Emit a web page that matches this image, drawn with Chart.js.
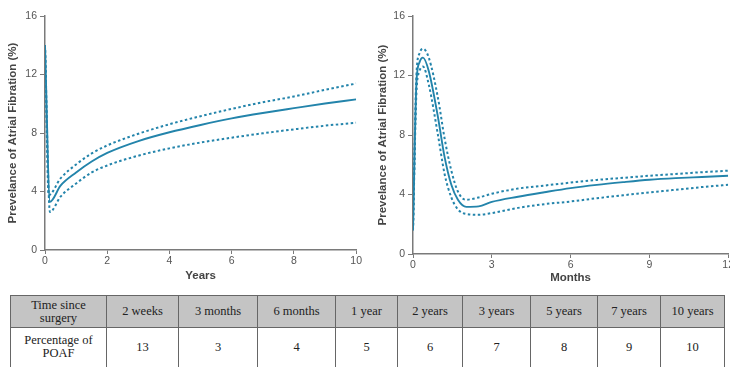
<!DOCTYPE html>
<html>
<head>
<meta charset="utf-8">
<script src="https://cdn.jsdelivr.net/npm/chart.js@4/dist/chart.umd.min.js"></script>
<style>
  html, body { margin:0; padding:0; width:730px; height:367px; overflow:hidden; background:#fff; }
  #c1wrap { position:absolute; left:0; top:0; width:363px; height:285px; }
  #c2wrap { position:absolute; left:368px; top:0; width:367px; height:285px; }
  table { position:absolute; left:10px; top:295px; border-collapse:collapse; font-family:"Liberation Serif","Times New Roman",serif; font-size:12.5px; color:#222; table-layout:fixed; }
  td { border:1px solid #666; text-align:center; padding:0; line-height:13px; }
  tr.h td { background:#c4c4c4; height:31px; }
  tr.b td { height:46px; vertical-align:top; padding-top:6px; }
  tr.b td.num { padding-top:13px; }
</style>
</head>
<body>
<div id="c1wrap"><canvas id="c1"></canvas></div>
<div id="c2wrap"><canvas id="c2"></canvas></div>
<table id="tbl"></table>
<script>
// ---- Data: years chart ----
const yearsMeanX  = [0, 0.16, 0.5, 1, 1.5, 2, 3, 4, 5, 6, 7, 8, 9, 10];
const yearsMeanY  = [14, 3.3, 4.4, 5.3, 6.05, 6.64, 7.45, 8.05, 8.55, 9.0, 9.37, 9.7, 10.02, 10.3];
const yearsUpperX = [0, 0.12, 0.5, 1, 1.5, 2, 3, 4, 5, 6, 7, 8, 9, 10];
const yearsUpperY = [14, 3.75, 4.9, 5.85, 6.6, 7.15, 7.95, 8.6, 9.15, 9.65, 10.1, 10.5, 10.95, 11.38];
const yearsLowerX = [0, 0.16, 0.5, 1, 1.5, 2, 3, 4, 5, 6, 7, 8, 9, 10];
const yearsLowerY = [14, 2.6, 3.65, 4.55, 5.3, 5.78, 6.45, 6.95, 7.35, 7.68, 7.98, 8.25, 8.5, 8.7];

// ---- Data: months chart ----
const monthsMeanX  = [0, 0.13, 0.25, 0.38, 0.6, 0.95, 1.2, 1.46, 1.71, 2.03, 2.5, 3, 4, 5, 6, 7, 8, 9, 10, 11, 12];
const monthsMeanY  = [1.6, 11.5, 12.9, 13.2, 12.3, 9.2, 6.55, 4.65, 3.65, 3.17, 3.2, 3.5, 3.85, 4.15, 4.43, 4.65, 4.83, 4.99, 5.1, 5.18, 5.26];
const monthsUpperX = [0, 0.13, 0.25, 0.38, 0.6, 0.95, 1.2, 1.46, 1.71, 2.0, 2.5, 3, 4, 5, 6, 7, 8, 9, 10, 11, 12];
const monthsUpperY = [1.6, 12.0, 13.5, 13.8, 13.2, 10.5, 7.8, 5.6, 4.2, 3.65, 3.8, 4.05, 4.4, 4.6, 4.8, 4.98, 5.12, 5.26, 5.38, 5.5, 5.6];
const monthsLowerX = [0, 0.13, 0.25, 0.38, 0.6, 0.95, 1.2, 1.46, 1.71, 2.0, 2.5, 3, 4, 5, 6, 7, 8, 9, 10, 11, 12];
const monthsLowerY = [1.6, 10.8, 12.3, 12.6, 11.4, 8.0, 5.4, 3.8, 3.0, 2.7, 2.64, 2.75, 3.1, 3.35, 3.53, 3.75, 3.95, 4.14, 4.32, 4.5, 4.65];

// ---- Table data ----
const tableHeader = ["Time since<br>surgery", "2 weeks", "3 months", "6 months", "1 year", "2 years", "3 years", "5 years", "7 years", "10 years"];
const tableRowLabel = "Percentage of<br>POAF";
const tableValues = [13, 3, 4, 5, 6, 7, 8, 9, 10];
const colWidths = [96, 72, 79, 78, 62, 65, 68, 67, 63, 64];

const yTitle = "Prevelance of Atrial Fibration (%)";
const LINE = '#2384ab';
const AXIS = '#7a7a7a';

function pts(xs, ys){ return xs.map((x,i)=>({x:x, y:ys[i]})); }

function ds(xs, ys, dashed){
  return {
    data: pts(xs, ys),
    borderColor: LINE,
    borderWidth: dashed ? 2 : 1.9,
    borderDash: dashed ? [2.5, 2.5] : [],
    pointRadius: 0,
    fill: false,
    cubicInterpolationMode: 'monotone'
  };
}

function makeChart(id, datasets, xMax, xStep, xTitle, opts){
  return new Chart(document.getElementById(id), {
    type: 'line',
    data: { datasets: datasets },
    options: {
      responsive: true,
      maintainAspectRatio: false,
      animation: false,
      layout: { padding: { top: 16, right: 0, bottom: opts.pb, left: 0 } },
      plugins: { legend: { display:false }, tooltip: { enabled:false } },
      scales: {
        x: {
          type: 'linear', min: 0, max: xMax,
          ticks: { stepSize: xStep, color:'#555', font:{ family:'Liberation Sans, Arial', size:10.5 }, padding: 1, maxRotation:0 },
          grid: { drawOnChartArea:false, drawTicks:true, tickLength:4, color:AXIS },
          border: { display:true, color:AXIS, width:1.5 },
          title: { display:true, text:xTitle, color:'#444', font:{ family:'Liberation Sans, Arial', size:11.5, weight:'bold' }, padding:{ top:0, bottom:0 } },
          afterFit: function(s){ s.height = opts.xh; }
        },
        y: {
          type: 'linear', min: 0, max: 16,
          ticks: { stepSize: 4, color:'#555', font:{ family:'Liberation Sans, Arial', size:10.5 }, padding: 3 },
          grid: { drawOnChartArea:false, drawTicks:true, tickLength:5, color:AXIS },
          border: { display:true, color:AXIS, width:1.5 },
          title: { display:true, text:yTitle, color:'#444', font:{ family:'Liberation Sans, Arial', size:11.5, weight:'bold' }, padding:{ top:opts.tp, bottom:0 } },
          afterFit: function(s){ s.width = 45; }
        }
      }
    }
  });
}

makeChart('c1', [ds(yearsUpperX, yearsUpperY, true), ds(yearsLowerX, yearsLowerY, true), ds(yearsMeanX, yearsMeanY, false)], 10, 2, 'Years', {pb:2, xh:33, tp:6});
makeChart('c2', [ds(monthsUpperX, monthsUpperY, true), ds(monthsLowerX, monthsLowerY, true), ds(monthsMeanX, monthsMeanY, false)], 12, 3, 'Months', {pb:0, xh:31, tp:8});

// Build table
const tbl = document.getElementById('tbl');
let html = '<colgroup>' + colWidths.map(w=>'<col style="width:'+w+'px">').join('') + '</colgroup>';
html += '<tr class="h">' + tableHeader.map(h=>'<td>'+h+'</td>').join('') + '</tr>';
html += '<tr class="b"><td>' + tableRowLabel + '</td>' + tableValues.map(v=>'<td class="num">'+v+'</td>').join('') + '</tr>';
tbl.innerHTML = html;
tbl.style.width = colWidths.reduce((a,b)=>a+b,0) + 'px';
</script>
</body>
</html>
